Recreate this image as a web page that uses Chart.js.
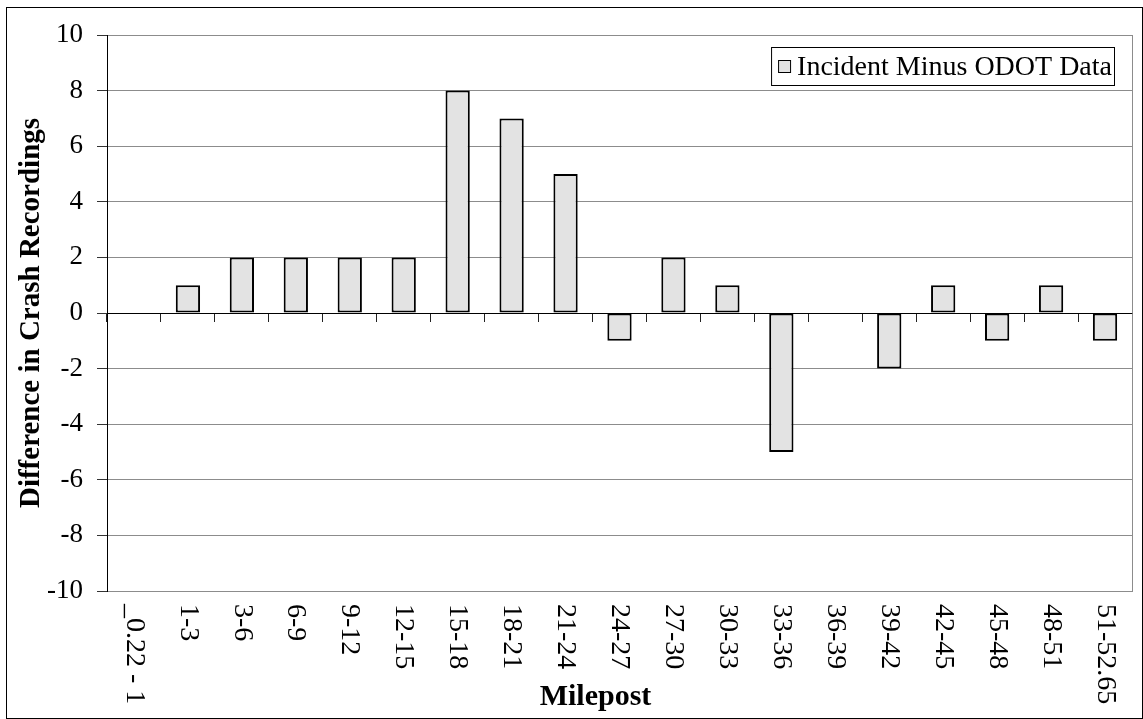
<!DOCTYPE html>
<html lang="en-US">
<head>
  <meta charset="utf-8">
  <title>Incident Minus ODOT Data</title>
  <script src="https://cdn.jsdelivr.net/npm/chart.js@4/dist/chart.umd.min.js"></script>
  <style>
    body { margin: 0; background: #fff; }
    .wrap { position: relative; width: 1143px; height: 719px; }
    .frame { position: absolute; left: 6px; top: 7px; width: 1137px; height: 712px;
             box-sizing: border-box; border: 1px solid #000; pointer-events: none; }
  </style>
</head>
<body>
  <div class="wrap">
    <canvas id="chart-0" width="1143" height="719"></canvas>
    <div class="frame"></div>
  </div>

  <script>

    // milepost ranges along the route
    let mileposts = ['_0.22 - 1', '1-3', '3-6', '6-9', '9-12', '12-15', '15-18', '18-21', '21-24',
      '24-27', '27-30', '30-33', '33-36', '36-39', '39-42', '42-45', '45-48', '48-51', '51-52.65'];

    // incident count minus ODOT count per range
    let differences = [0, 1, 2, 2, 2, 2, 8, 7, 5, -1, 2, 1, -5, 0, -2, 1, -1, 1, -1];

    let yMin = -10;
    let yMax = 10;
    let yStep = 2;

    let seriesName = 'Incident Minus ODOT Data';
    let xTitle = 'Milepost';
    let yTitle = 'Difference in Crash Recordings';

    let serif = '"Liberation Serif", "Times New Roman", serif';
    Chart.defaults.font.family = serif;
    Chart.defaults.color = '#000';

    let gridGray = '#8c8c8c';

    // Excel style: labels read top to bottom, axis title, boxed legend inside the plot
    let excelBits = {
      id: 'excelBits',
      afterDraw(chart) {
        let ctx = chart.ctx;
        let x = chart.scales.x;
        let area = chart.chartArea;

        ctx.save();
        ctx.fillStyle = '#000';
        ctx.font = '28px ' + serif;
        ctx.textAlign = 'left';
        ctx.textBaseline = 'middle';
        chart.data.labels.forEach(function(lab, i) {
          ctx.save();
          ctx.translate(x.getPixelForValue(i), area.bottom + 13);
          ctx.rotate(Math.PI / 2);
          ctx.fillText(lab, 0, 0);
          ctx.restore();
        });

        ctx.font = 'bold 30px ' + serif;
        ctx.textAlign = 'center';
        ctx.textBaseline = 'alphabetic';
        ctx.fillText(xTitle, (area.left + area.right) / 2 - 24, 705);

        // legend
        let ds = chart.data.datasets[0];
        ctx.font = '28px ' + serif;
        let tw = ctx.measureText(ds.label).width;
        let right = area.right - 17;
        let boxL = right - tw - 29;
        ctx.fillStyle = '#fff';
        ctx.fillRect(boxL, 47, right - boxL, 38);
        ctx.strokeStyle = '#000';
        ctx.lineWidth = 1;
        ctx.strokeRect(boxL + 0.5, 47.5, right - boxL - 1, 38);
        ctx.fillStyle = ds.backgroundColor;
        ctx.fillRect(boxL + 7, 60, 12, 12);
        ctx.strokeStyle = ds.borderColor;
        ctx.strokeRect(boxL + 7.5, 60.5, 12, 12);
        ctx.fillStyle = '#000';
        ctx.textAlign = 'left';
        ctx.fillText(ds.label, boxL + 26, 75);
        ctx.restore();
      }
    };

    let chart = new Chart('chart-0', {
      type: 'bar',
      data: {
        labels: mileposts,
        datasets: [{
          label: seriesName,
          data: differences,
          backgroundColor: '#e3e3e3',
          borderColor: '#000',
          borderWidth: 2,
          borderSkipped: false,
          categoryPercentage: 1,
          barPercentage: 0.45
        }]
      },
      options: {
        responsive: false,
        animation: false,
        layout: { padding: { top: 35, right: 11, bottom: 0, left: 0 } },
        plugins: {
          legend: { display: false },
          tooltip: { enabled: false }
        },
        scales: {
          x: {
            position: 'bottom',
            grid: { display: false },
            border: { display: false },
            ticks: { display: false },
            afterFit: function(scale) { scale.height = 128; }
          },
          x2: {
            type: 'category',
            position: { y: 0 },
            offset: true,
            grid: { offset: true, drawOnChartArea: false, drawTicks: true, tickLength: 8, color: '#222' },
            border: { display: true, color: '#000', width: 1 },
            ticks: { display: false }
          },
          y: {
            min: yMin,
            max: yMax,
            ticks: { stepSize: yStep, padding: 14, font: { size: 27 } },
            grid: {
              color: function(c) { return c.tick && c.tick.value === 0 ? '#000' : gridGray; },
              tickColor: '#333',
              tickLength: 10
            },
            border: { color: '#000', width: 1 },
            title: {
              display: true,
              text: yTitle,
              font: { size: 29, weight: 'bold' },
              padding: { top: 14, bottom: 0 }
            },
            afterFit: function(scale) { scale.width = 107; }
          },
          y2: {
            type: 'linear',
            position: 'right',
            grid: { drawOnChartArea: false, drawTicks: false },
            ticks: { display: false },
            border: { color: gridGray, width: 1 },
            afterFit: function(scale) { scale.width = 0; }
          }
        }
      },
      plugins: [excelBits]
    });

  </script>
</body>
</html>
